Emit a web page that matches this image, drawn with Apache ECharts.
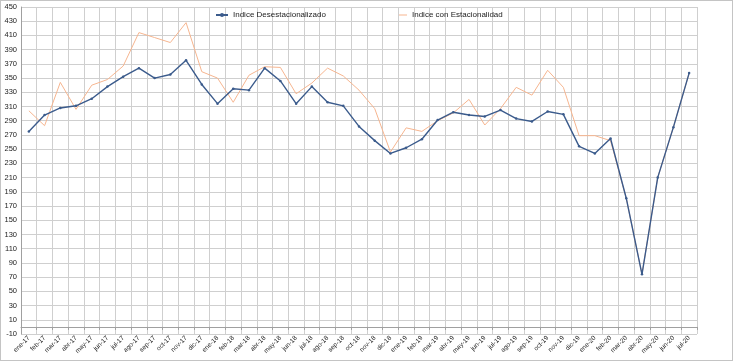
<!DOCTYPE html>
<html>
<head>
<meta charset="utf-8">
<script src="https://cdn.jsdelivr.net/npm/echarts@6/dist/echarts.min.js"></script>
<style>
html,body{margin:0;padding:0;background:#fff;}
#frame{position:absolute;left:0;top:0;width:733px;height:361px;box-sizing:border-box;border:1px solid #c4c4c4;}
#chart{position:absolute;left:0;top:0;width:733px;height:361px;}
</style>
</head>
<body>
<div id="frame"></div>
<div id="chart"></div>
<script>
const categories = ['ene-17','feb-17','mar-17','abr-17','may-17','jun-17','jul-17','ago-17','sep-17','oct-17','nov-17','dic-17',
  'ene-18','feb-18','mar-18','abr-18','may-18','jun-18','jul-18','ago-18','sep-18','oct-18','nov-18','dic-18',
  'ene-19','feb-19','mar-19','abr-19','may-19','jun-19','jul-19','ago-19','sep-19','oct-19','nov-19','dic-19',
  'ene-20','feb-20','mar-20','abr-20','may-20','jun-20','jul-20'];
const desestacionalizado = [275,298,308,311,321,338,352,364,350,355,375,341,
  314,335,333,364,346,314,338,316,311,282,262,244,
  252,264,291,302,298,296,305,293,289,303,299,254,
  244,265,181,74,210,281,357];
const conEstacionalidad = [304,283,344,306,340,348,367,414,407,400,428,359,
  350,316,354,366,365,328,343,364,353,333,307,246,
  280,275,290,301,320,284,307,337,326,361,337,269,
  269,262,181,74,210,281,357];
const yTicks = [-10,10,30,50,70,90,110,130,150,170,190,210,230,250,270,290,310,330,350,370,390,410,430,450];
const seriesNames = ['Indice Desestacionalizado','Indice con Estacionalidad'];

const chart = echarts.init(document.getElementById('chart'), null, {renderer:'canvas'});
const font = 'Liberation Sans, Arial, sans-serif';
chart.setOption({
  animation:false,
  textStyle:{fontFamily:font},
  legend:[
    {data:[{name:seriesNames[0]}], left:215, top:11, itemWidth:12, itemHeight:5, itemGap:0,
     textStyle:{fontSize:8, color:'#222', fontFamily:font}, padding:0},
    {data:[{name:seriesNames[1], icon:'rect'}], left:399, top:11, itemWidth:8, itemHeight:1, itemGap:0,
     textStyle:{fontSize:8, color:'#222', fontFamily:font}, padding:0}
  ],
  grid:{left:21, right:36, top:7, bottom:27, containLabel:false},
  xAxis:{
    type:'category', data:categories, boundaryGap:true,
    axisLine:{lineStyle:{color:'#a0a0a0'}},
    axisTick:{show:true, interval:0, length:3, lineStyle:{color:'#a0a0a0'}},
    axisLabel:{interval:0, rotate:45, fontSize:6.5, color:'#222', margin:3, fontFamily:font},
    splitLine:{show:true, interval:0, lineStyle:{color:'#cfcfcf', width:1}}
  },
  yAxis:{
    type:'value', min:-10, max:450,
    axisLine:{show:true, lineStyle:{color:'#a0a0a0'}},
    axisTick:{show:false, customValues:yTicks},
    axisLabel:{customValues:yTicks, fontSize:7.5, color:'#222', margin:4, fontFamily:font},
    splitLine:{show:true, lineStyle:{color:'#cfcfcf', width:1}}
  },
  series:[
    {name:seriesNames[1], type:'line', data:conEstacionalidad, z:2,
     symbol:'none', showSymbol:false,
     itemStyle:{color:'#f6b58f'}, lineStyle:{color:'#f6b58f', width:1}},
    {name:seriesNames[0], type:'line', data:desestacionalizado, z:3,
     symbol:'circle', symbolSize:2.5, showSymbol:true,
     itemStyle:{color:'#3b5b8c'}, lineStyle:{color:'#3b5b8c', width:1.4}}
  ]
});
</script>
</body>
</html>
